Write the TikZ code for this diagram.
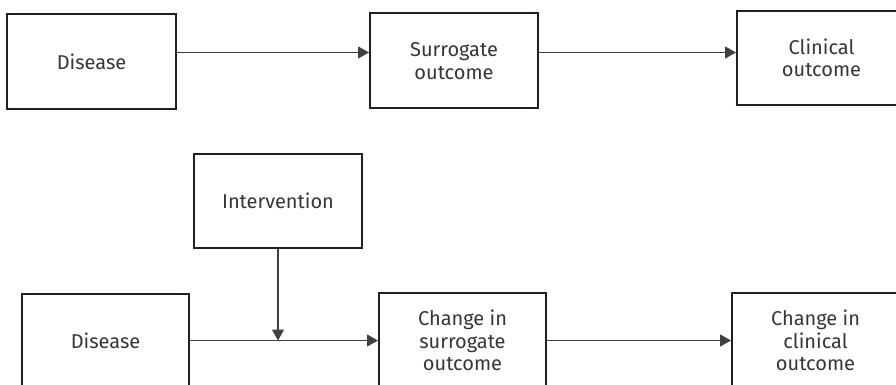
\documentclass[tikz,border=0pt]{standalone}
\usepackage{fontspec}
\setmainfont{Fira Sans}
\usetikzlibrary{arrows.meta}
\definecolor{boxline}{HTML}{231F20}
\definecolor{linkline}{HTML}{404040}
\tikzset{
  block/.style={draw=boxline, line width=2pt, fill=white, align=center,
    inner sep=0pt, text=boxline!90,
    font=\fontsize{20}{22.5}\selectfont},
  link/.style={draw=linkline, line width=1.2pt,
    -{Triangle[length=11pt,width=12pt]}},
}
\begin{document}
\begin{tikzpicture}[x=1pt,y=-1pt]
  \useasboundingbox (0,0) rectangle (896,385);
  \clip (0,0) rectangle (896,385);

  % first chain: disease -> surrogate -> clinical
  \node[block, minimum width=169pt, minimum height=95pt] (d1) at (91.5,61.5) {Disease};
  \node[block, minimum width=168pt, minimum height=95pt] (s1) at (454,61) {Surrogate\\outcome};
  \node[block, minimum width=169pt, minimum height=94pt] (c1) at (821.5,58) {Clinical\\outcome};
  \coordinate (row1) at (0,52.5);
  \draw[link] (d1.east |- row1) -- (s1.west |- row1);
  \draw[link] (s1.east |- row1) -- (c1.west |- row1);

  % second chain with the intervention acting on the first link
  \node[block, minimum width=168pt, minimum height=94pt] (iv) at (278,200.5) {Intervention};
  \node[block, minimum width=167pt, minimum height=95pt] (d2) at (105.5,341) {Disease};
  \node[block, minimum width=167pt, minimum height=95pt] (s2) at (462.5,340.5) {Change in\\surrogate\\outcome};
  \node[block, minimum width=167pt, minimum height=95pt] (c2) at (815.5,340.5) {Change in\\clinical\\outcome};
  \coordinate (row2) at (0,340.5);
  \coordinate (meet) at (iv.south |- row2);
  \draw[link] (d2.east |- row2) -- (s2.west |- row2);
  \draw[link] (iv.south) -- (meet);
  \draw[link] (s2.east |- row2) -- (c2.west |- row2);
\end{tikzpicture}
\end{document}
